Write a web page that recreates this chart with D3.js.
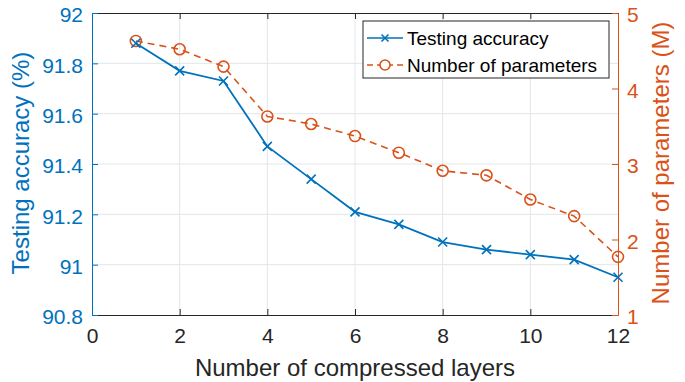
<!DOCTYPE html>
<html>
<head>
<meta charset="utf-8">
<script src="https://cdn.jsdelivr.net/npm/d3@7"></script>
<style>
  body { margin: 0; background: #fff; }
  svg { font-family: Arial, "Liberation Sans", Helvetica, sans-serif; }
</style>
</head>
<body>
<div id="chart"></div>
<script>
// data
const layers = [1, 2, 3, 4, 5, 6, 7, 8, 9, 10, 11, 12];
const accuracy = [91.88, 91.77, 91.73, 91.47, 91.34, 91.21, 91.16, 91.09, 91.06, 91.04, 91.02, 90.95];
const params = [4.63, 4.52, 4.29, 3.63, 3.53, 3.37, 3.15, 2.91, 2.85, 2.53, 2.31, 1.77];
const xTicks = [0, 2, 4, 6, 8, 10, 12];
const yLeftTicks = [90.8, 91, 91.2, 91.4, 91.6, 91.8, 92];
const yRightTicks = [1, 2, 3, 4, 5];
const seriesNames = ['Testing accuracy', 'Number of parameters'];

const blue = '#0072BD', orange = '#D95319', dark = '#262626';

const W = 685, H = 382;
const margin = {top: 13, right: 67, bottom: 67, left: 92};
const width = W - margin.left - margin.right,
    height = H - margin.top - margin.bottom;

const x = d3.scaleLinear().domain([0, 12]).range([0, width]);
const yL = d3.scaleLinear().domain([90.8, 92]).range([height, 0]);
const yR = d3.scaleLinear().domain([1, 5]).range([height, 0]);
const fmt = d3.format('~g');

const svg = d3.select('#chart').append('svg')
    .attr('width', W).attr('height', H)
    .append('g')
    .attr('transform', `translate(${margin.left},${margin.top})`);

// grid
svg.append('g').selectAll('line').data(xTicks.slice(1, -1)).enter().append('line')
    .attr('x1', d => x(d)).attr('x2', d => x(d))
    .attr('y1', 0).attr('y2', height)
    .style('stroke', '#e2e6ea').style('stroke-width', 1);
svg.append('g').selectAll('line').data(yLeftTicks.slice(1, -1)).enter().append('line')
    .attr('x1', 0).attr('x2', width)
    .attr('y1', d => yL(d)).attr('y2', d => yL(d))
    .style('stroke', '#e2e6ea').style('stroke-width', 1);

// top border with inward ticks
svg.append('g')
    .call(d3.axisTop(x).tickValues(xTicks).tickSize(-6).tickFormat(''))
    .call(g => g.selectAll('path, line').style('stroke', dark));

// bottom axis
const xAxis = svg.append('g')
    .attr('transform', `translate(0,${height})`)
    .call(d3.axisBottom(x).tickValues(xTicks).tickSize(-6).tickSizeOuter(0).tickPadding(13));
xAxis.selectAll('path, line').style('stroke', dark);
xAxis.selectAll('text').style('fill', dark).style('font-size', '21px');

// left axis
const leftAxis = svg.append('g')
    .call(d3.axisLeft(yL).tickValues(yLeftTicks).tickSize(-6).tickSizeOuter(0).tickPadding(9)
        .tickFormat(fmt));
leftAxis.selectAll('path, line').style('stroke', blue);
leftAxis.selectAll('text').style('fill', blue).style('font-size', '21px').attr('dy', '0.42em');

// right axis
const rightAxis = svg.append('g')
    .attr('transform', `translate(${width},0)`)
    .call(d3.axisRight(yR).tickValues(yRightTicks).tickSize(-6).tickSizeOuter(0).tickPadding(9)
        .tickFormat(fmt));
rightAxis.selectAll('path, line').style('stroke', orange);
rightAxis.selectAll('text').style('fill', orange).style('font-size', '21px').attr('dy', '0.42em');

// params series (dashed, circles)
const paramData = layers.map((l, i) => ({x: l, y: params[i]}));
svg.append('path')
    .datum(paramData)
    .style('fill', 'none').style('stroke', orange).style('stroke-width', 1.6)
    .style('stroke-dasharray', '7,5')
    .attr('d', d3.line().x(d => x(d.x)).y(d => yR(d.y)));
svg.selectAll('.pt-circle').data(paramData).enter().append('circle')
    .attr('class', 'pt-circle')
    .attr('cx', d => x(d.x)).attr('cy', d => yR(d.y)).attr('r', 5.5)
    .style('fill', 'none').style('stroke', orange).style('stroke-width', 1.6);

// accuracy series (solid, crosses)
const accData = layers.map((l, i) => ({x: l, y: accuracy[i]}));
svg.append('path')
    .datum(accData)
    .style('fill', 'none').style('stroke', blue).style('stroke-width', 1.8)
    .attr('d', d3.line().x(d => x(d.x)).y(d => yL(d.y)));
svg.selectAll('.pt-cross').data(accData).enter().append('path')
    .attr('class', 'pt-cross')
    .attr('transform', d => `translate(${x(d.x)},${yL(d.y)})`)
    .attr('d', 'M-4.5,-4.5L4.5,4.5M-4.5,4.5L4.5,-4.5')
    .style('stroke', blue).style('stroke-width', 1.6);

// axis titles
svg.append('text')
    .attr('x', width / 2).attr('y', 376 - margin.top)
    .style('text-anchor', 'middle').style('font-size', '24px').style('fill', dark)
    .text('Number of compressed layers');
svg.append('text')
    .attr('transform', 'rotate(-90)')
    .attr('x', -(163 - margin.top)).attr('y', 29 - margin.left)
    .style('text-anchor', 'middle').style('font-size', '24px').style('fill', blue)
    .text('Testing accuracy (%)');
svg.append('text')
    .attr('transform', 'rotate(-90)')
    .attr('x', -(163 - margin.top)).attr('y', 669 - margin.left)
    .style('text-anchor', 'middle').style('font-size', '24px').style('fill', orange)
    .text('Number of parameters (M)');

// legend
const lx = 363 - margin.left, ly = 21 - margin.top;
const legend = svg.append('g').attr('transform', `translate(${lx},${ly})`);
legend.append('rect')
    .attr('width', 246).attr('height', 57)
    .style('fill', '#fff').style('stroke', dark).style('stroke-width', 1);
const rows = [
    {name: seriesNames[0], color: blue, dash: null, marker: 'cross'},
    {name: seriesNames[1], color: orange, dash: '6,4', marker: 'circle'}
];
rows.forEach((r, i) => {
    const cy = 17 + i * 27;
    legend.append('line')
        .attr('x1', 4).attr('x2', 40).attr('y1', cy).attr('y2', cy)
        .style('stroke', r.color).style('stroke-width', 1.6)
        .style('stroke-dasharray', r.dash);
    if (r.marker === 'cross') {
        legend.append('path')
            .attr('transform', `translate(22,${cy})`)
            .attr('d', 'M-3.5,-3.5L3.5,3.5M-3.5,3.5L3.5,-3.5')
            .style('stroke', r.color).style('stroke-width', 1.6);
    } else {
        legend.append('circle')
            .attr('cx', 22).attr('cy', cy).attr('r', 5)
            .style('fill', '#fff').style('stroke', r.color).style('stroke-width', 1.6);
    }
    legend.append('text')
        .attr('x', 44).attr('y', cy).attr('dy', '0.35em')
        .style('font-size', '19px').style('fill', '#000')
        .text(r.name);
});
</script>
</body>
</html>
